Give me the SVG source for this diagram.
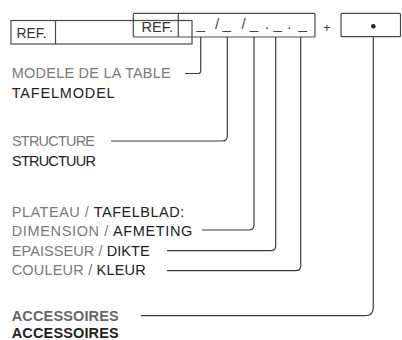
<svg xmlns="http://www.w3.org/2000/svg" width="402" height="340" viewBox="0 0 402 340">
<style>
.box{fill:none;stroke:#4a4a4a;stroke-width:1.2}
.ref{font-family:"Liberation Sans",Arial,sans-serif;font-size:15px;fill:#333}
.code{font-family:"Liberation Sans",Arial,sans-serif;font-size:15px;fill:#444;text-anchor:middle}
.lbl{font-family:"Liberation Sans",Arial,sans-serif;font-size:14.5px;fill:#7a7a7a}
.nl{fill:#222}
.bold{font-weight:bold}
.con{fill:none;stroke:#3c3c3c;stroke-width:1.2}
</style>
<rect width="402" height="340" fill="#fff"/>
<g id="ref-field">
<rect class="box" x="11" y="20.5" width="181" height="23.5"/>
<line class="box" x1="55.5" y1="20.5" x2="55.5" y2="44"/>
<text class="ref" x="16.5" y="38.3" textLength="30" lengthAdjust="spacingAndGlyphs">REF.</text>
</g>
<g id="code-field">
<rect class="box" x="133.3" y="13.3" width="181.7" height="23.7" rx="1"/>
<line class="box" x1="178.3" y1="13.3" x2="178.3" y2="37"/>
<text class="ref" x="141.5" y="31.7" textLength="31.5" lengthAdjust="spacingAndGlyphs">REF.</text>
<text class="code" y="29"><tspan x="200.7">_</tspan><tspan x="215"> /</tspan><tspan x="226.7">_</tspan><tspan x="241.5"> /</tspan><tspan x="254">_</tspan><tspan x="265"> .</tspan><tspan x="275.7"> _</tspan><tspan x="287.3"> .</tspan><tspan x="300.7"> _</tspan></text>
</g>
<g id="plus">
<text class="code" x="326.7" y="32" style="font-size:13px">+</text>
</g>
<g id="accessory-field">
<rect class="box" x="341" y="13.3" width="59.5" height="23.4" rx="1"/>
<circle cx="373.3" cy="26.3" r="2.3" fill="#222"/>
</g>
<g id="connectors">
<path class="con" d="M185 73.5H198.3Q200.7 73.5 200.7 71.1V37"/>
<path class="con" d="M111 141H222.3Q227.3 141 227.3 136V37"/>
<path class="con" d="M202 230H249Q254 230 254 225V37"/>
<path class="con" d="M167 250.7H270.7Q275.7 250.7 275.7 245.7V37"/>
<path class="con" d="M167 270.7H295.7Q300.7 270.7 300.7 265.7V37"/>
<path class="con" d="M141 315.7H365Q373.3 315.7 373.3 307.4V36.7"/>
</g>
<g id="label-model">
<text class="lbl" x="11.7" y="78.3" textLength="159" lengthAdjust="spacing">MODELE DE LA TABLE</text>
<text class="lbl nl" x="11.7" y="98" textLength="103" lengthAdjust="spacing">TAFELMODEL</text>
</g>
<g id="label-structure">
<text class="lbl" x="12" y="146" textLength="83" lengthAdjust="spacing">STRUCTURE</text>
<text class="lbl nl" x="12" y="165.5" textLength="84" lengthAdjust="spacing">STRUCTUUR</text>
</g>
<g id="label-plateau">
<text class="lbl" x="11.7" y="216.7" textLength="172.6" lengthAdjust="spacing">PLATEAU / <tspan class="nl">TAFELBLAD:</tspan></text>
<text class="lbl" x="11.7" y="235.7" textLength="180.6" lengthAdjust="spacing">DIMENSION / <tspan class="nl">AFMETING</tspan></text>
<text class="lbl" x="11.7" y="255.7" textLength="138" lengthAdjust="spacing">EPAISSEUR / <tspan class="nl">DIKTE</tspan></text>
<text class="lbl" x="11.7" y="275" textLength="134" lengthAdjust="spacing">COULEUR / <tspan class="nl">KLEUR</tspan></text>
</g>
<g id="label-accessoires">
<text class="lbl bold" x="11.7" y="320.7" style="fill:#666" textLength="107" lengthAdjust="spacing">ACCESSOIRES</text>
<text class="lbl bold nl" x="11.7" y="337.5" textLength="107" lengthAdjust="spacing">ACCESSOIRES</text>
</g>
</svg>
